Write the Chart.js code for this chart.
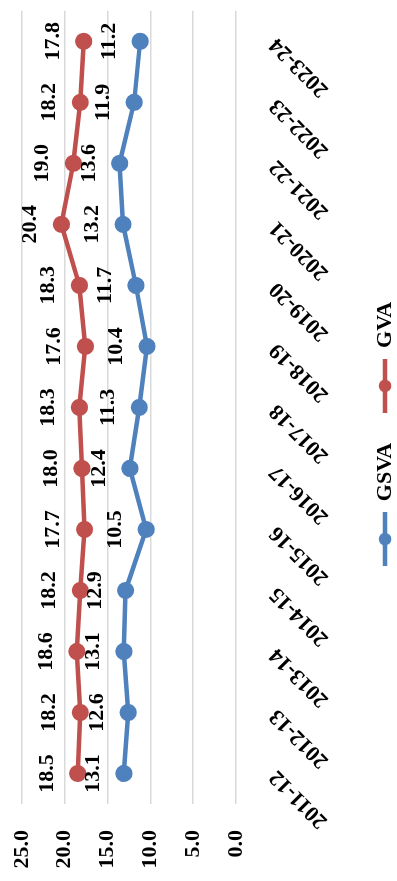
<!DOCTYPE html>
<html>
<head>
<meta charset="utf-8">
<script src="https://cdn.jsdelivr.net/npm/chart.js@4"></script>
<style>
  html, body { margin: 0; padding: 0; background: #fff; overflow: hidden; }
  #wrap {
    position: absolute; left: 0; top: 0;
    width: 881px; height: 397px;
    transform-origin: 0 0;
    transform: translate(0, 881px) rotate(-90deg);
  }
</style>
</head>
<body>
<div id="wrap"><canvas id="myChart" width="881" height="397"></canvas></div>
<script>
  const years = ["2011-12", "2012-13", "2013-14", "2014-15", "2015-16", "2016-17", "2017-18",
    "2018-19", "2019-20", "2020-21", "2021-22", "2022-23", "2023-24"];
  const gsva = [13.1, 12.6, 13.1, 12.9, 10.5, 12.4, 11.3, 10.4, 11.7, 13.2, 13.6, 11.9, 11.2];
  const gva = [18.5, 18.2, 18.6, 18.2, 17.7, 18.0, 18.3, 17.6, 18.3, 20.4, 19.0, 18.2, 17.8];
  const yTicks = [0, 5, 10, 15, 20, 25];

  const fontName = "'Liberation Serif', 'Times New Roman', serif";
  const blue = "#4F81BD";
  const red = "#C0504D";

  // legend swatch: line with a dot in the middle, like excel
  function swatch(color) {
    const c = document.createElement("canvas");
    c.width = 54;
    c.height = 14;
    const g = c.getContext("2d");
    g.strokeStyle = color;
    g.lineWidth = 4.5;
    g.beginPath();
    g.moveTo(0, 7);
    g.lineTo(54, 7);
    g.stroke();
    g.fillStyle = color;
    g.beginPath();
    g.arc(27, 7, 6.3, 0, Math.PI * 2);
    g.fill();
    return c;
  }

  const valueLabels = {
    id: "valueLabels",
    afterDatasetsDraw(chart) {
      const ctx = chart.ctx;
      ctx.save();
      ctx.font = "bold 22px " + fontName;
      ctx.fillStyle = "#000";
      ctx.textAlign = "center";
      ctx.textBaseline = "alphabetic";
      chart.data.datasets.forEach((ds, i) => {
        chart.getDatasetMeta(i).data.forEach((pt, j) => {
          ctx.fillText(ds.data[j].toFixed(1), pt.x, pt.y - 25);
        });
      });
      ctx.restore();
    },
  };

  new Chart(document.getElementById("myChart"), {
    type: "line",
    data: {
      labels: years,
      datasets: [
        {
          label: "GSVA",
          data: gsva,
          borderColor: blue,
          backgroundColor: blue,
          borderWidth: 4.5,
          pointRadius: 6.3,
          pointHoverRadius: 6.3,
          pointStyle: "circle",
          tension: 0,
        },
        {
          label: "GVA",
          data: gva,
          borderColor: red,
          backgroundColor: red,
          borderWidth: 4.5,
          pointRadius: 6.3,
          pointHoverRadius: 6.3,
          pointStyle: "circle",
          tension: 0,
        },
      ],
    },
    options: {
      responsive: false,
      animation: false,
      devicePixelRatio: 1,
      layout: { padding: { left: 13, right: 0, top: 22, bottom: -9 } },
      plugins: {
        tooltip: { enabled: false },
        legend: {
          position: "bottom",
          labels: {
            usePointStyle: true,
            pointStyleWidth: 54,
            padding: 30,
            color: "#000",
            font: { family: fontName, size: 22, weight: "bold" },
            generateLabels: (chart) =>
              chart.data.datasets.map((ds, i) => ({
                text: ds.label,
                pointStyle: swatch(ds.borderColor),
                fillStyle: ds.borderColor,
                strokeStyle: ds.borderColor,
                lineWidth: 0,
                fontColor: "#000",
                datasetIndex: i,
              })),
          },
        },
      },
      scales: {
        x: {
          offset: true,
          grid: { display: false },
          border: { display: false },
          afterFit: (s) => {
            s.paddingLeft = 0;
            s.paddingRight = 0;
            s.height = 108;
          },
          ticks: {
            autoSkip: false,
            minRotation: 45,
            maxRotation: 45,
            padding: 20,
            color: "#000",
            font: { family: fontName, size: 22, weight: "bold" },
          },
        },
        y: {
          min: 0,
          max: 25,
          afterBuildTicks: (axis) => {
            axis.ticks = yTicks.map((v) => ({ value: v }));
          },
          afterFit: (s) => {
            s.paddingTop = 0;
            s.paddingBottom = 0;
            s.width = 64;
          },
          grid: { color: "#D9D9D9", lineWidth: 1.5, drawTicks: false },
          border: { display: false },
          ticks: {
            padding: 26,
            color: "#000",
            font: { family: fontName, size: 22, weight: "bold" },
            callback: (v) => Number(v).toFixed(1),
          },
        },
      },
    },
    plugins: [valueLabels],
  });
</script>
</body>
</html>
